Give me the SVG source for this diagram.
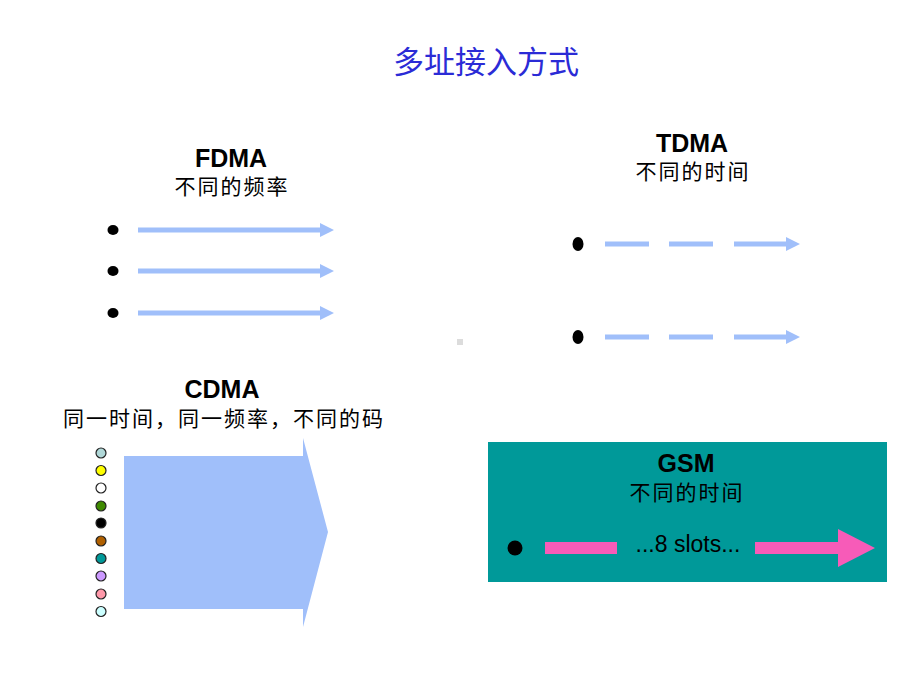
<svg xmlns="http://www.w3.org/2000/svg" width="920" height="690" viewBox="0 0 920 690">
<style>
.h{font-family:"Liberation Sans",Arial,sans-serif;font-weight:bold;font-size:25px;fill:#000;text-anchor:middle}
.c{font-family:"Noto Sans CJK SC",sans-serif;font-size:21px;letter-spacing:2px;fill:#000;text-anchor:middle}
.t{font-family:"Noto Sans CJK SC",sans-serif;font-size:31px;fill:#2b2bd6;text-anchor:middle}
.b{fill:#a0bffa}
.p{fill:#f75bb8}
.dot{stroke:#222;stroke-width:1.2}
</style>
<rect width="920" height="690" fill="#fff"/>
<text class="t" x="486" y="73">多址接入方式</text>

<g id="fdma">
<text class="h" x="231" y="167">FDMA</text>
<text class="c" x="232" y="194">不同的频率</text>
<ellipse cx="113" cy="230" rx="5.5" ry="5"/>
<ellipse cx="113" cy="271" rx="5.5" ry="5"/>
<ellipse cx="113" cy="313" rx="5.5" ry="5"/>
<path class="b" d="M138,227.5H320V223L334,230L320,237V232.5H138Z"/>
<path class="b" d="M138,268.5H320V264L334,271L320,278V273.5H138Z"/>
<path class="b" d="M138,310.5H320V306L334,313L320,320V315.5H138Z"/>
</g>

<g id="tdma">
<text class="h" x="692" y="152">TDMA</text>
<text class="c" x="693" y="179">不同的时间</text>
<ellipse cx="578" cy="244" rx="5.5" ry="7"/>
<ellipse cx="578" cy="337" rx="5.5" ry="7"/>
<rect class="b" x="605" y="241.5" width="44" height="5"/>
<rect class="b" x="669" y="241.5" width="44" height="5"/>
<path class="b" d="M734,241.5H786V237L800,244L786,251V246.5H734Z"/>
<rect class="b" x="605" y="334.5" width="44" height="5"/>
<rect class="b" x="669" y="334.5" width="44" height="5"/>
<path class="b" d="M734,334.5H786V330L800,337L786,344V339.5H734Z"/>
</g>

<rect x="457" y="339" width="6" height="6" fill="#dcdcdc"/>

<g id="cdma">
<text class="h" x="222" y="398">CDMA</text>
<text class="c" x="224" y="426">同一时间，同一频率，不同的码</text>
<path class="b" d="M124,456H303V438L328,532L303,627V609H124Z"/>
<circle class="dot" cx="101" cy="453" r="5" fill="#b0d8d8"/>
<circle class="dot" cx="101" cy="470.5" r="5" fill="#ffff00"/>
<circle class="dot" cx="101" cy="488" r="5" fill="#ffffff"/>
<circle class="dot" cx="101" cy="506" r="5" fill="#3f8a00"/>
<circle class="dot" cx="101" cy="523" r="5" fill="#000000"/>
<circle class="dot" cx="101" cy="541" r="5" fill="#b06000"/>
<circle class="dot" cx="101" cy="558.5" r="5" fill="#009999"/>
<circle class="dot" cx="101" cy="576" r="5" fill="#cc99ff"/>
<circle class="dot" cx="101" cy="594" r="5" fill="#ff99aa"/>
<circle class="dot" cx="101" cy="611.5" r="5" fill="#ccffff"/>
</g>

<g id="gsm">
<rect x="488" y="442" width="399" height="140" fill="#009999"/>
<text class="h" x="686" y="472">GSM</text>
<text class="c" x="687" y="500">不同的时间</text>
<circle cx="515" cy="548" r="7.5"/>
<rect class="p" x="545" y="542" width="72" height="12"/>
<text x="688" y="552" font-family="Liberation Sans,Arial,sans-serif" font-size="23" text-anchor="middle" fill="#000">...8 slots...</text>
<path class="p" d="M755,542H838V529L875,548L838,567V554H755Z"/>
</g>
</svg>
